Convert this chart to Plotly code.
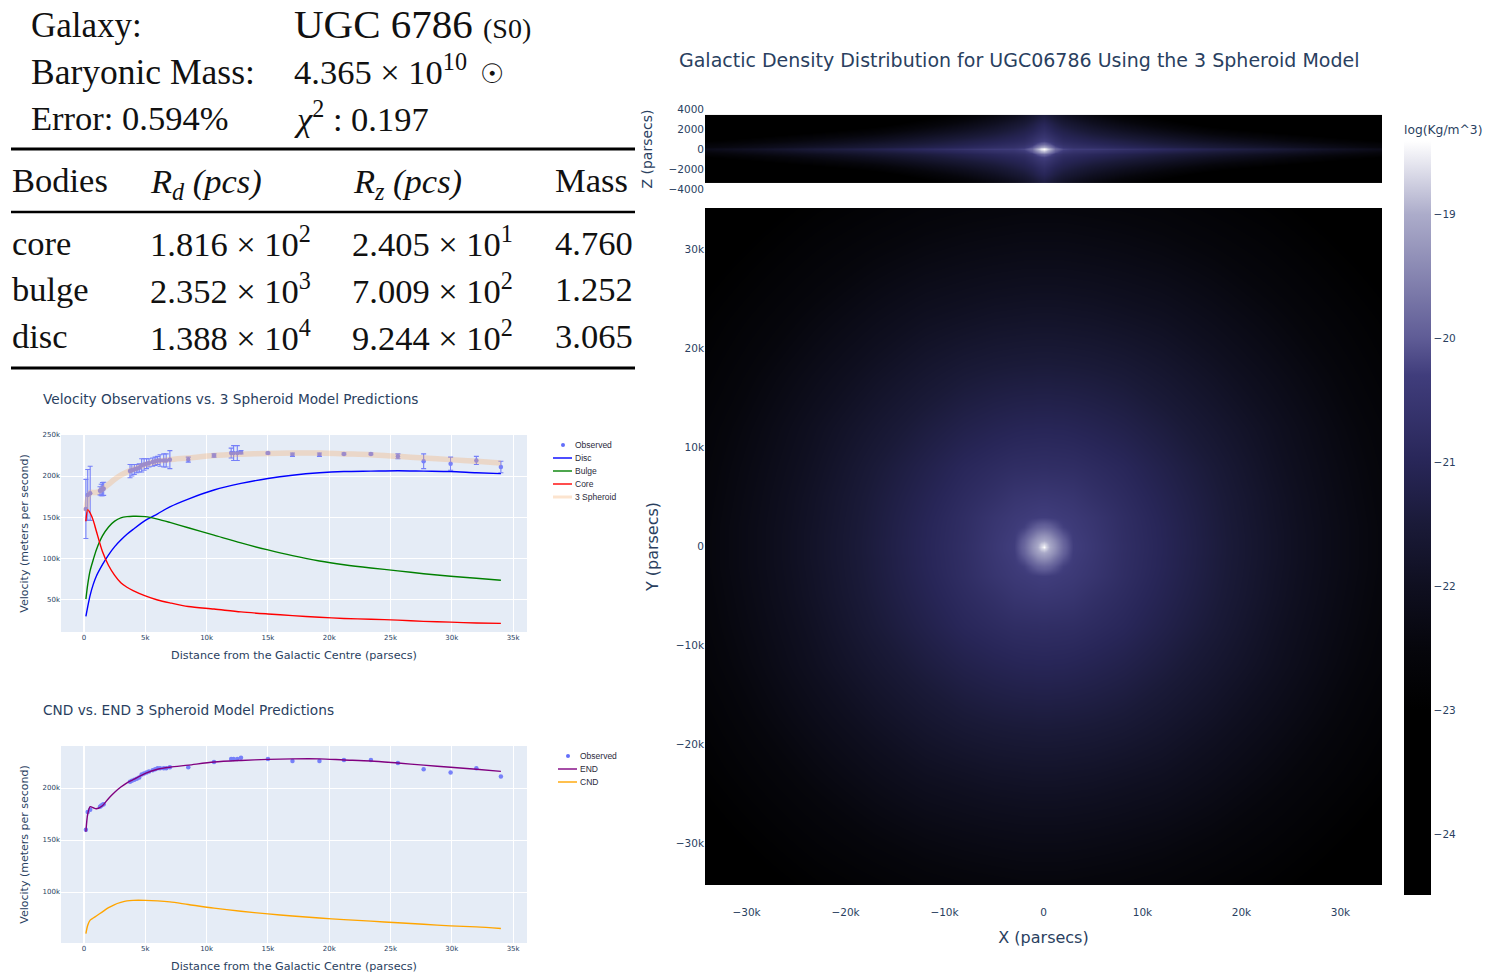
import numpy as np
import plotly.graph_objects as go

W, H = 1486, 979
DARK = '#2a3f5f'
SANS = 'DejaVu Sans'
SERIF = 'Liberation Serif'
TINT = '#E5ECF6'

# observed rotation curve (all in parsecs and m/s)
obs_r = [150, 300, 500, 1300, 1400, 1500, 1600, 3750, 3900, 4100, 4300, 4500,
         4700, 4900, 5100, 5300, 5600, 5800, 6000, 6200, 6500, 6700, 7000,
         8500, 10600, 12000, 12200, 12500, 12800, 15000, 17000, 19200, 21200,
         23400, 25600, 27700, 29900, 32000, 34000]
obs_v = [160e3, 177e3, 179e3, 182e3, 183e3, 184e3, 184.5e3, 206e3, 207e3,
         208e3, 209e3, 210e3, 213e3, 214e3, 215e3, 216e3, 217e3, 218e3, 219e3,
         219e3, 219e3, 219e3, 220e3, 220e3, 225e3, 228e3, 228e3, 228e3, 229e3,
         228e3, 226e3, 226e3, 227e3, 227e3, 224e3, 218e3, 215e3, 219e3, 211e3]
obs_err = [36e3, 31e3, 33e3, 5e3, 7e3, 8e3, 8e3, 8e3, 7e3, 6e3, 5e3, 5e3, 8e3,
           7e3, 6e3, 5e3, 5e3, 5e3, 5e3, 7e3, 8e3, 8e3, 11e3, 3e3, 2e3, 6e3,
           9e3, 9e3, 2e3, 1e3, 2e3, 2e3, 1e3, 1e3, 3e3, 9e3, 8e3, 5e3, 7e3]

# model curves
model_r = [150, 300, 500, 750, 1000, 1500, 2000, 2500, 3000, 3500, 4000, 5000,
           6000, 7000, 8500, 10600, 12800, 15000, 17000, 19200, 21200, 23400,
           25600, 27700, 29900, 32000, 34000]
disc_v = [29e3, 41e3, 55e3, 68e3, 78e3, 92e3, 104e3, 114e3, 122e3, 129e3,
          135e3, 146e3, 154e3, 162.5e3, 172e3, 183e3, 191e3, 197e3, 201e3, 204e3,
          205.5e3, 206e3, 206.5e3, 206e3, 205.5e3, 204e3, 203e3]
bulge_v = [50e3, 68e3, 85e3, 98e3, 110e3, 127e3, 138e3, 145e3, 149e3, 150.5e3,
           151e3, 150.5e3, 147.5e3, 143.5e3, 137e3, 128e3, 118.5e3, 110e3, 103e3,
           96.5e3, 92e3, 88e3, 84.5e3, 81e3, 78e3, 75.5e3, 73e3]
core_v = [145e3, 159e3, 155e3, 146e3, 133e3, 108e3, 91e3, 79e3, 70e3, 64.5e3,
          60.5e3, 54e3, 49e3, 45.5e3, 41e3, 38e3, 34.5e3, 32e3, 30e3, 28e3, 26.5e3,
          25.5e3, 24.5e3, 23e3, 22e3, 21e3, 20.5e3]
total_v = [157e3, 172e3, 180e3, 180e3, 180e3, 184e3, 190e3, 196e3, 201e3,
           205e3, 208e3, 214e3, 218e3, 220e3, 222e3, 225e3, 226.5e3, 227.5e3,
           228e3, 228e3, 227e3, 226e3, 224e3, 222e3, 220e3, 218e3, 216e3]
end_v = [158e3, 175e3, 182e3, 181e3, 180e3, 183e3, 190e3, 196e3, 201e3, 205e3,
         208e3, 214e3, 218e3, 220e3, 222e3, 225e3, 226.5e3, 227.5e3, 228e3,
         228e3, 227e3, 226e3, 224e3, 222e3, 220e3, 218e3, 216e3]
cnd_v = [60e3, 68e3, 73e3, 75e3, 77e3, 81e3, 85e3, 88e3, 90e3, 91.5e3, 92e3,
         92e3, 91.5e3, 90.5e3, 88e3, 84.5e3, 81.5e3, 79e3, 77e3, 75e3, 73.5e3,
         72e3, 70.5e3, 69e3, 67.5e3, 66.5e3, 65e3]

# density maps, one quadrant each (log10 kg/m^3), mirrored further down
face_nodes = [0, 300, 700, 1200, 2000, 3000, 5000, 8000, 12000, 17000, 23000, 29000, 34200]
face_quad = [
    [-18.41, -18.7, -19.05, -19.35, -19.85, -20.3, -20.48, -20.75, -21.02, -21.38, -21.8, -22.2, -22.5],
    [-18.7, -18.8, -19.1, -19.37, -19.87, -20.3, -20.48, -20.75, -21.02, -21.38, -21.8, -22.2, -22.5],
    [-19.05, -19.1, -19.22, -19.47, -19.92, -20.32, -20.49, -20.76, -21.02, -21.38, -21.8, -22.2, -22.5],
    [-19.35, -19.37, -19.47, -19.7, -20.05, -20.34, -20.5, -20.76, -21.03, -21.39, -21.8, -22.2, -22.5],
    [-19.85, -19.87, -19.92, -20.05, -20.27, -20.38, -20.52, -20.77, -21.03, -21.39, -21.81, -22.2, -22.5],
    [-20.3, -20.3, -20.32, -20.34, -20.38, -20.42, -20.55, -20.78, -21.05, -21.4, -21.82, -22.21, -22.51],
    [-20.48, -20.48, -20.49, -20.5, -20.52, -20.55, -20.68, -20.85, -21.1, -21.43, -21.84, -22.23, -22.53],
    [-20.75, -20.75, -20.76, -20.76, -20.77, -20.78, -20.85, -20.97, -21.2, -21.5, -21.9, -22.27, -22.56],
    [-21.02, -21.02, -21.02, -21.03, -21.03, -21.05, -21.1, -21.2, -21.38, -21.65, -21.98, -22.34, -22.62],
    [-21.38, -21.38, -21.38, -21.39, -21.39, -21.4, -21.43, -21.5, -21.65, -21.87, -22.16, -22.47, -22.75],
    [-21.8, -21.8, -21.8, -21.8, -21.81, -21.82, -21.84, -21.9, -21.98, -22.16, -22.4, -22.67, -22.9],
    [-22.2, -22.2, -22.2, -22.2, -22.2, -22.21, -22.23, -22.27, -22.34, -22.47, -22.67, -22.9, -23.1],
    [-22.5, -22.5, -22.5, -22.5, -22.5, -22.51, -22.53, -22.56, -22.62, -22.75, -22.9, -23.1, -23.3],
]
# the last two z nodes sit close together so the map stops at +-3400
edge_z_nodes = [0, 100, 250, 500, 800, 1200, 1800, 2500, 3390, 3400]
edge_quad = [
    [-18.41, -18.6, -19.0, -19.8, -20.2, -20.35, -20.4, -20.6, -20.9, -21.2, -21.5, -21.9, -22.2],
    [-18.6, -18.75, -19.2, -19.9, -20.3, -20.5, -20.6, -20.8, -21.0, -21.3, -21.6, -22.0, -22.3],
    [-19.0, -19.15, -19.6, -20.1, -20.5, -20.65, -20.75, -20.95, -21.2, -21.5, -21.8, -22.2, -22.5],
    [-19.8, -19.9, -20.1, -20.45, -20.7, -20.8, -20.95, -21.15, -21.4, -21.7, -22.05, -22.4, -22.7],
    [-20.25, -20.3, -20.45, -20.65, -20.85, -20.95, -21.1, -21.3, -21.6, -21.95, -22.3, -22.7, -23.0],
    [-20.5, -20.55, -20.65, -20.8, -21.0, -21.1, -21.3, -21.55, -21.85, -22.25, -22.6, -23.0, -23.3],
    [-20.75, -20.8, -20.9, -21.05, -21.2, -21.35, -21.6, -21.9, -22.25, -22.7, -23.1, -23.5, -23.8],
    [-21.0, -21.05, -21.15, -21.3, -21.5, -21.65, -21.95, -22.3, -22.7, -23.2, -23.6, -24.0, -24.2],
    [-21.4, -21.45, -21.55, -21.7, -21.9, -22.1, -22.4, -22.8, -23.2, -23.7, -24.1, -24.4, -24.49],
    [-21.4, -21.45, -21.55, -21.7, -21.9, -22.1, -22.4, -22.8, -23.2, -23.7, -24.1, -24.4, -24.49],
]
density_min, density_max = -24.49, -18.41
scale_levels = [-24.49, -23.0, -22.5, -22.0, -21.5, -21.0, -20.3, -20.0, -19.0, -18.41]
scale_colors = ['#000000', '#000000', '#06060c', '#0f0f20', '#1a1a38', '#282658',
                '#403d7c', '#5f5c96', '#acacca', '#ffffff']

# text of the table block
table_rows = [
    ('core', '1.816 × 10<sup>2</sup>', '2.405 × 10<sup>1</sup>', '4.760'),
    ('bulge', '2.352 × 10<sup>3</sup>', '7.009 × 10<sup>2</sup>', '1.252'),
    ('disc', '1.388 × 10<sup>4</sup>', '9.244 × 10<sup>2</sup>', '3.065'),
]


def px_x(x):
    return x / W


def px_y(y):
    return 1 - y / H


def mirror(nodes):
    nodes = np.asarray(nodes, dtype=float)
    return np.concatenate([-nodes[:0:-1], nodes])


def mirror_grid(quad):
    quad = np.asarray(quad)
    right = np.concatenate([quad[:, :0:-1], quad], axis=1)
    return np.concatenate([right[:0:-1], right], axis=0)


fig = go.Figure()


def curve(x, y, name, color, width, xa, ya, opacity=1):
    fig.add_trace(go.Scatter(x=x, y=y, name=name, mode='lines', xaxis=xa, yaxis=ya,
                             opacity=opacity, showlegend=False,
                             line=dict(color=color, width=width, shape='spline', smoothing=0.8)))


fig.add_trace(go.Scatter(x=obs_r, y=obs_v, name='Observed', mode='markers',
                         showlegend=False, opacity=0.85,
                         error_y=dict(type='data', array=obs_err, width=2.5, thickness=1.1),
                         marker=dict(color='#636efa', size=4.5), xaxis='x', yaxis='y'))
curve(model_r, disc_v, 'Disc', 'blue', 1.4, 'x', 'y')
curve(model_r, bulge_v, 'Bulge', 'green', 1.4, 'x', 'y')
curve(model_r, core_v, 'Core', 'red', 1.4, 'x', 'y')
curve(model_r, total_v, '3 Spheroid', 'rgba(244,164,96,0.3)', 5.5, 'x', 'y')

fig.add_trace(go.Scatter(x=obs_r, y=obs_v, name='Observed', mode='markers',
                         showlegend=False, opacity=0.85,
                         marker=dict(color='#636efa', size=4.5), xaxis='x2', yaxis='y2'))
curve(model_r, end_v, 'END', 'purple', 1.4, 'x2', 'y2')
curve(model_r, cnd_v, 'CND', 'orange', 1.4, 'x2', 'y2')

fig.add_trace(go.Heatmap(x=mirror(face_nodes), y=mirror(face_nodes), z=mirror_grid(face_quad),
                         coloraxis='coloraxis', zsmooth='best', xaxis='x3', yaxis='y3'))
fig.add_trace(go.Heatmap(x=mirror(face_nodes), y=mirror(edge_z_nodes), z=mirror_grid(edge_quad),
                         coloraxis='coloraxis', zsmooth='best', xaxis='x4', yaxis='y4'))


def small_x(anchor, standoff):
    return dict(domain=[px_x(61), px_x(527)], range=[-1880, 36130], anchor=anchor,
                gridcolor='white', zerolinecolor='white', zerolinewidth=2,
                tickvals=[0, 5000, 10000, 15000, 20000, 25000, 30000, 35000],
                tickformat='~s', tickfont=dict(size=7), automargin=False,
                title=dict(text='Distance from the Galactic Centre (parsecs)',
                           font=dict(size=11.2), standoff=standoff))


def small_y(anchor, top, bottom, rng, ticks):
    return dict(domain=[px_y(bottom), px_y(top)], range=rng, anchor=anchor,
                gridcolor='white', zerolinecolor='white',
                tickvals=ticks, tickformat='~s', tickfont=dict(size=7), automargin=False,
                title=dict(text='Velocity (meters per second)', font=dict(size=11), standoff=11))


fig.update_layout(
    width=W, height=H, margin=dict(l=0, r=0, t=0, b=0), autosize=False,
    paper_bgcolor='white', plot_bgcolor='white',
    font=dict(family=SANS, color=DARK),
    showlegend=False,
    title=dict(text='Galactic Density Distribution for UGC06786 Using the 3 Spheroid Model',
               x=px_x(679), y=px_y(60), xanchor='left', yanchor='middle',
               font=dict(size=19, color=DARK)),
    xaxis=small_x('y', 10),
    yaxis=small_y('x', 435, 632, [10e3, 250e3], [50e3, 100e3, 150e3, 200e3, 250e3]),
    xaxis2=small_x('y2', 10),
    yaxis2=small_y('x2', 746, 943, [51e3, 240.4e3], [100e3, 150e3, 200e3]),
    xaxis3=dict(domain=[px_x(705), px_x(1382)], range=[-34200, 34200], anchor='y3',
                showgrid=False, zeroline=False, automargin=False, tickformat='~s',
                tickvals=[-30000, -20000, -10000, 0, 10000, 20000, 30000],
                ticks='outside', ticklen=17, tickcolor='white',
                tickfont=dict(size=10.5),
                title=dict(text='X (parsecs)', font=dict(size=16), standoff=15)),
    yaxis3=dict(domain=[px_y(885), px_y(208)], range=[-34200, 34200], anchor='x3',
                showgrid=False, zeroline=False, automargin=False, tickformat='~s',
                tickvals=[-30000, -20000, -10000, 0, 10000, 20000, 30000],
                tickfont=dict(size=10.5),
                title=dict(text='Y (parsecs)', font=dict(size=16), standoff=13)),
    xaxis4=dict(domain=[px_x(705), px_x(1382)], range=[-34200, 34200], anchor='y4',
                showgrid=False, zeroline=False, automargin=False, showticklabels=False),
    yaxis4=dict(domain=[px_y(189), px_y(109)], range=[-4000, 4000], anchor='x4',
                showgrid=False, zeroline=False, automargin=False,
                tickvals=[-4000, -2000, 0, 2000, 4000], tickfont=dict(size=10.5),
                title=dict(text='Z (parsecs)', font=dict(size=14), standoff=12)),
    coloraxis=dict(
        cmin=density_min, cmax=density_max,
        colorscale=[[(v - density_min) / (density_max - density_min), c]
                    for v, c in zip(scale_levels, scale_colors)],
        colorbar=dict(title=dict(text='log(Kg/m^3)', side='top', font=dict(size=12.3)),
                      x=px_x(1404), xanchor='left', xpad=0, ypad=0,
                      y=px_y(895), yanchor='bottom', lenmode='pixels', len=773,
                      thicknessmode='pixels', thickness=27, outlinewidth=0,
                      tickvals=[-24, -23, -22, -21, -20, -19], tickfont=dict(size=10.5)),
    ),
)

# tint goes behind the velocity panels only, the density maps sit on white
for top, bottom in [(435, 632), (746, 943)]:
    fig.add_shape(type='rect', xref='paper', yref='paper', layer='below', line_width=0,
                  fillcolor=TINT, x0=px_x(61), x1=px_x(527), y0=px_y(bottom), y1=px_y(top))


def text(x, y, s, size, family=SERIF, color='#111111', anchor='left'):
    fig.add_annotation(x=px_x(x), y=px_y(y), xref='paper', yref='paper', text=s,
                       showarrow=False, xanchor=anchor, yanchor='middle', borderpad=0,
                       font=dict(size=size, family=family, color=color))


def rule(y, width):
    fig.add_shape(type='line', xref='paper', yref='paper', x0=px_x(11), x1=px_x(635),
                  y0=px_y(y), y1=px_y(y), line=dict(color='black', width=width))


text(30, 26, 'Galaxy:', 35)
text(293, 24, 'UGC 6786', 41)
text(482, 28, '(S0)', 28)
text(30, 72, 'Baryonic Mass:', 35.5)
text(293, 69, '4.365 × 10<sup>10</sup>', 34.5)
text(479, 74, '☉', 27, family='DejaVu Sans')
text(30, 118, 'Error: 0.594%', 34.5)
text(293, 116, '<i>χ</i><sup>2</sup> : 0.197', 34.5)
rule(149, 3)
text(11, 180, 'Bodies', 34.5)
text(149, 183, '<i>R<sub>d</sub> (pcs)</i>', 34.5)
text(352, 183, '<i>R<sub>z</sub> (pcs)</i>', 34.5)
text(554, 180, 'Mass', 34.5)
rule(212, 2.5)
for row_y, (body, rd, rz, mass) in zip([243, 289, 336], table_rows):
    text(11, row_y, body, 34.5)
    text(149, row_y - 1, rd, 34.5)
    text(351, row_y - 1, rz, 34.5)
    text(554, row_y, mass, 34.5)
rule(368, 3)

text(42, 399, 'Velocity Observations vs. 3 Spheroid Model Predictions', 13.7, SANS, DARK)
text(42, 710, 'CND vs. END 3 Spheroid Model Predictions', 13.7, SANS, DARK)


# plotly's own legend spaces rows too far apart at this size, so the keys are drawn by hand
def legend_block(x0, first_y, entries):
    for i, (label, color, kind) in enumerate(entries):
        y = first_y + 13 * i
        if kind == 'dot':
            fig.add_shape(type='circle', xref='paper', yref='paper', line_width=0,
                          fillcolor=color, x0=px_x(x0 + 8), x1=px_x(x0 + 12),
                          y0=px_y(y + 2), y1=px_y(y - 2))
        else:
            fig.add_shape(type='line', xref='paper', yref='paper', x0=px_x(x0), x1=px_x(x0 + 19),
                          y0=px_y(y), y1=px_y(y), line=dict(color=color, width=1.4 if kind == 'line' else 3))
        text(x0 + 21, y, label, 8.5, 'Liberation Sans', '#2a2a3a')


legend_block(553, 445, [('Observed', '#636efa', 'dot'), ('Disc', 'blue', 'line'),
                        ('Bulge', 'green', 'line'), ('Core', 'red', 'line'),
                        ('3 Spheroid', 'rgba(244,164,96,0.3)', 'band')])
legend_block(558, 756, [('Observed', '#636efa', 'dot'), ('END', 'purple', 'line'),
                        ('CND', 'orange', 'line')])

fig.write_html("out.html", config=dict(displayModeBar=False),
               post_script="document.body.style.margin='0';")
